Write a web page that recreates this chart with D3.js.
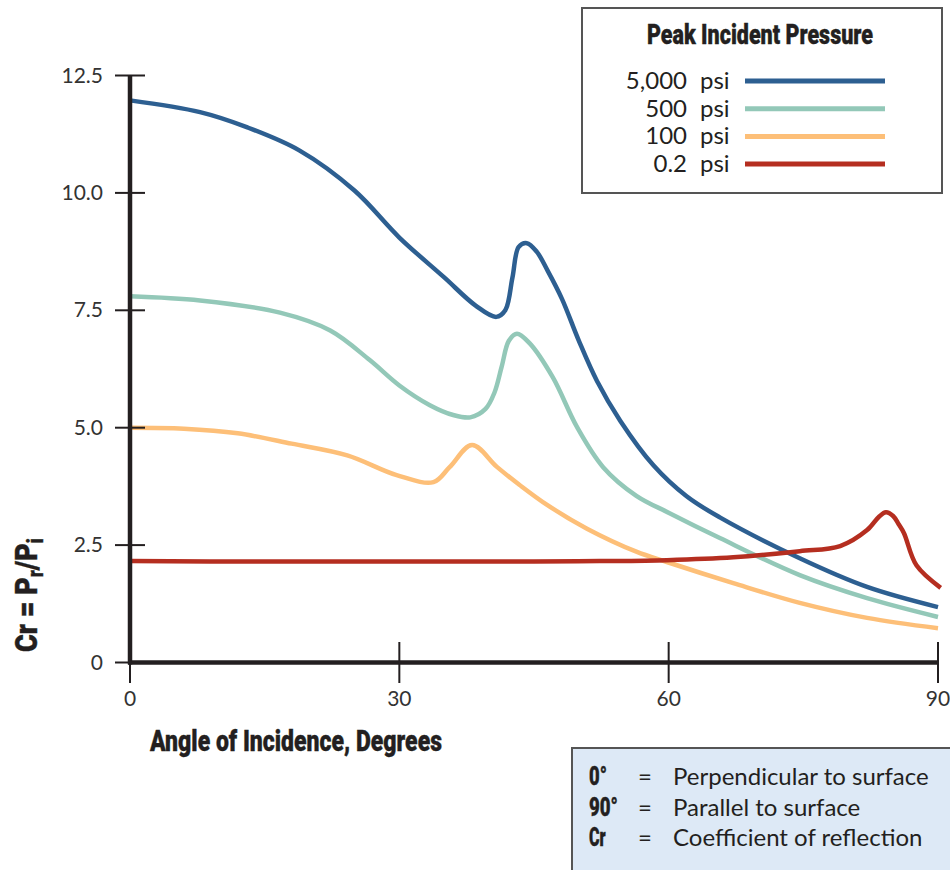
<!DOCTYPE html>
<html><head><meta charset="utf-8">
<script src="https://cdn.jsdelivr.net/npm/d3@7"></script>
<style>
body{margin:0;background:#fff;}
svg{display:block;}
.tick-label{font-family:Lato,"Open Sans",sans-serif;font-size:21px;fill:#333;}
.bold{font-family:Roboto,"Liberation Sans",sans-serif;font-weight:900;fill:#231f20;stroke:#231f20;stroke-width:0.4;}
.note{font-family:Lato,"Open Sans",sans-serif;font-size:24px;fill:#231f20;}
</style></head>
<body>
<script>
// ---- data ----
const xTicks = [0, 30, 60, 90];
const yTicks = [0, 2.5, 5.0, 7.5, 10.0, 12.5];
const yTickLabels = ["0", "2.5", "5.0", "7.5", "10.0", "12.5"];
const seriesNames = ["5,000", "500", "100", "0.2"];
const seriesColors = ["#2d5f91", "#93c8b8", "#fdbf78", "#b52e20"];

const angle5000 = [0, 7.8, 13, 18.9, 25, 30, 35, 38.5, 40.8, 41.8, 42.6, 43.3, 44.2, 45.3, 46.5, 48.1, 50, 52, 54.6, 58.3, 62, 65.7, 74.6, 82.1, 90];
const cr5000   = [11.97, 11.72, 11.4, 10.9, 10.05, 9.05, 8.2, 7.6, 7.36, 7.5, 8.2, 8.85, 8.93, 8.75, 8.35, 7.75, 6.85, 6.0, 5.15, 4.2, 3.54, 3.09, 2.22, 1.61, 1.18];

const angle500 = [0, 7.8, 16.7, 22.3, 26.7, 30, 33.4, 36, 37.9, 39.6, 40.6, 41.4, 42.2, 43.1, 44.5, 47.1, 49.8, 52.7, 56.4, 60.1, 65.7, 74.6, 82.1, 90];
const cr500   = [7.8, 7.71, 7.45, 7.07, 6.44, 5.9, 5.48, 5.27, 5.22, 5.4, 5.75, 6.3, 6.85, 7.0, 6.8, 6.07, 5.01, 4.16, 3.55, 3.18, 2.65, 1.86, 1.37, 0.97];

const angle100 = [0, 6, 12, 18, 24.2, 29.7, 33.8, 35.6, 38.1, 40.9, 43.4, 46.5, 50.9, 56.4, 59.8, 67.2, 74.6, 82.1, 90];
const cr100   = [5.0, 4.98, 4.88, 4.66, 4.41, 3.99, 3.84, 4.16, 4.63, 4.16, 3.78, 3.35, 2.85, 2.36, 2.14, 1.69, 1.27, 0.95, 0.73];

const angle02 = [0, 15, 30, 45, 52.3, 59.8, 67.2, 74.6, 79.1, 82.1, 83.4, 84.2, 85.0, 85.6, 86.2, 87.6, 90.3];
const cr02   = [2.16, 2.15, 2.15, 2.15, 2.16, 2.18, 2.24, 2.37, 2.48, 2.82, 3.1, 3.2, 3.12, 2.95, 2.76, 2.07, 1.59];

const allAngles = [angle5000, angle500, angle100, angle02];
const allCr = [cr5000, cr500, cr100, cr02];

// ---- layout ----
const W = 950, H = 870;
const svg = d3.select("body").append("svg").attr("width", W).attr("height", H);
const x = d3.scaleLinear().domain([0, 90]).range([130, 938]);
const y = d3.scaleLinear().domain([0, 12.5]).range([662.5, 75.5]);

const line = d3.line().x(d => x(d[0])).y(d => y(d[1])).curve(d3.curveCatmullRom.alpha(0.5));
[0, 1, 2, 3].forEach(i => {
  const pts = allAngles[i].map((a, j) => [a, allCr[i][j]]);
  svg.append("path").attr("d", line(pts)).attr("fill", "none")
    .attr("stroke", seriesColors[i]).attr("stroke-width", 4.5)
    .attr("stroke-linejoin", "round").attr("stroke-linecap", "butt");
});

// axes
const axisColor = "#231f20";
yTicks.forEach((t, i) => {
  const yy = y(t);
  svg.append("line").attr("x1", 115).attr("x2", t === 0 ? 130 : 145)
    .attr("y1", yy).attr("y2", yy).attr("stroke", axisColor).attr("stroke-width", 2);
  svg.append("text").attr("class", "tick-label").attr("x", 103).attr("y", yy + 7)
    .attr("text-anchor", "end").text(yTickLabels[i]);
});
xTicks.forEach(t => {
  const xx = x(t);
  svg.append("line").attr("x1", xx).attr("x2", xx)
    .attr("y1", t === 0 ? 662 : 642).attr("y2", 683)
    .attr("stroke", axisColor).attr("stroke-width", 2);
  svg.append("text").attr("class", "tick-label").attr("x", xx).attr("y", 706)
    .attr("text-anchor", "middle").text(t);
});
svg.append("line").attr("x1", x(0)).attr("x2", x(0)).attr("y1", y(12.5)).attr("y2", y(0) + 2)
  .attr("stroke", axisColor).attr("stroke-width", 4.5);
svg.append("line").attr("x1", x(0) - 2).attr("x2", x(90) + 1).attr("y1", y(0)).attr("y2", y(0))
  .attr("stroke", axisColor).attr("stroke-width", 4.5);

// helper: squeeze a text horizontally to a target width
function squeeze(sel, tx, ty, rot, target) {
  const w = sel.node().getBBox().width;
  sel.attr("transform", `translate(${tx},${ty}) rotate(${rot}) scale(${target / w},1)`);
}

// axis titles
const xt = svg.append("text").attr("class", "bold").attr("font-size", 29).attr("x", 0).attr("y", 0)
  .text("Angle of Incidence, Degrees");
squeeze(xt, 150, 751, 0, 293);

const yt = svg.append("text").attr("class", "bold").attr("font-size", 32).attr("x", 0).attr("y", 0);
yt.append("tspan").text("Cr = P");
yt.append("tspan").attr("font-size", 22).attr("dy", 6).text("r");
yt.append("tspan").attr("dy", -6).text("/P");
yt.append("tspan").attr("font-size", 22).attr("dy", 6).text("i");
squeeze(yt, 37, 652, -90, 114);

// legend
svg.append("rect").attr("x", 582).attr("y", 8).attr("width", 360).attr("height", 185)
  .attr("fill", "#fff").attr("stroke", "#555").attr("stroke-width", 2);
const lt = svg.append("text").attr("class", "bold").attr("font-size", 28).attr("x", 0).attr("y", 0)
  .text("Peak Incident Pressure");
squeeze(lt, 647, 44, 0, 226);
seriesNames.forEach((n, i) => {
  const ly = 81 + i * 27.7;
  svg.append("text").attr("class", "note").attr("x", 687).attr("y", ly + 8)
    .attr("text-anchor", "end").text(n);
  svg.append("text").attr("class", "note").attr("x", 700).attr("y", ly + 8).text("psi");
  svg.append("line").attr("x1", 745).attr("x2", 885).attr("y1", ly).attr("y2", ly)
    .attr("stroke", seriesColors[i]).attr("stroke-width", 5);
});

// note box
svg.append("rect").attr("x", 572).attr("y", 748).attr("width", 390).attr("height", 140)
  .attr("fill", "#dde9f6").attr("stroke", "#555").attr("stroke-width", 2);
const notes = [["0°", "Perpendicular to surface"], ["90°", "Parallel to surface"], ["Cr", "Coefficient of reflection"]];
const boldW = [18, 29, 17];
notes.forEach((n, i) => {
  const ny = 785 + i * 30.5;
  const b = svg.append("text").attr("class", "bold").attr("font-size", 25).attr("x", 0).attr("y", 0).text(n[0]);
  squeeze(b, 589, ny, 0, boldW[i]);
  svg.append("text").attr("class", "note").attr("x", 638).attr("y", ny).text("=");
  svg.append("text").attr("class", "note").attr("x", 673).attr("y", ny).text(n[1]);
});
</script>
</body></html>
